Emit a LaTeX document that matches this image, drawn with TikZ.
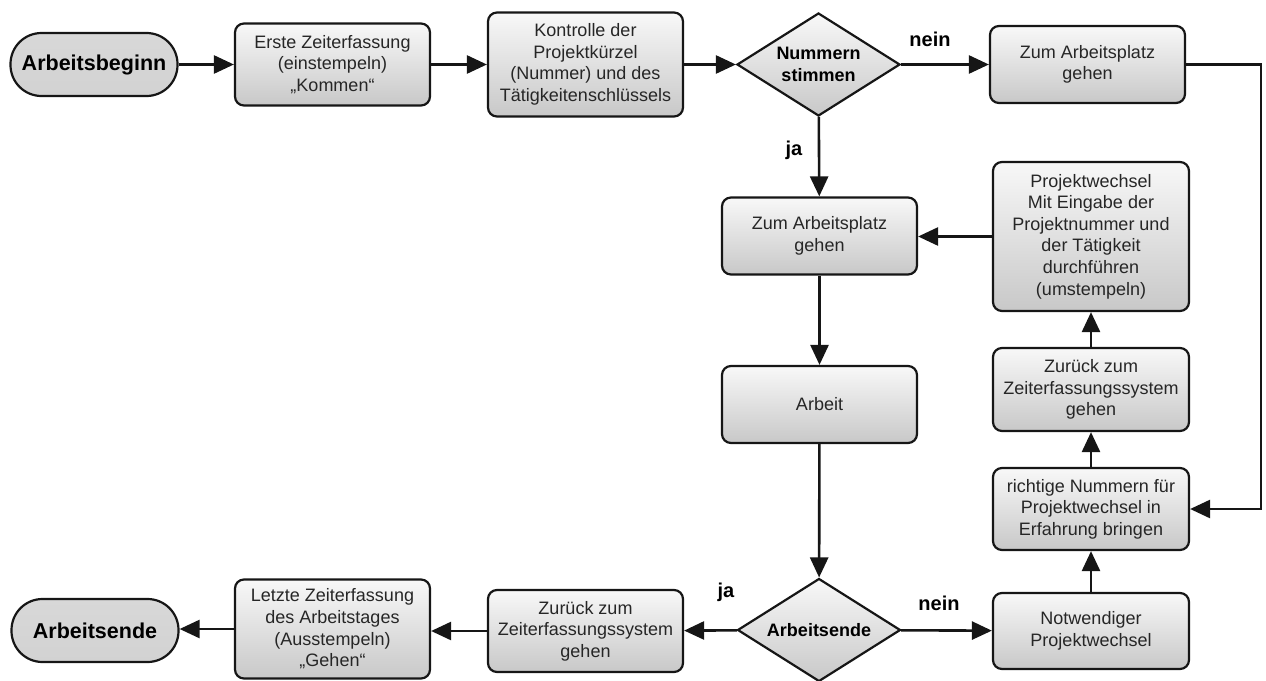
\documentclass[tikz,border=0pt]{standalone}
\usepackage{fontspec}
\setmainfont{Liberation Sans}
\usetikzlibrary{shapes.geometric,arrows.meta}
\definecolor{edge}{HTML}{161616}
\definecolor{ink}{HTML}{262626}
\definecolor{shadetop}{HTML}{F8F8F8}
\definecolor{shadebot}{HTML}{C8C8C8}
\definecolor{termtop}{HTML}{D8D8D8}
\definecolor{termmid}{HTML}{F8F8F8}
\definecolor{termbot}{HTML}{D2D2D2}

\begin{document}
\begin{tikzpicture}[x=1pt,y=-1pt,
  box/.style={draw=edge, line width=2.2pt, rounded corners=9pt,
    top color=shadetop, bottom color=shadebot,
    minimum width=195pt, inner sep=0pt, align=center, text=ink,
    font=\fontsize{18}{21.6}\selectfont},
  term/.style={draw=edge, line width=2.2pt, rounded corners=31pt,
    top color=termtop, middle color=termmid, bottom color=termbot,
    minimum width=167pt, minimum height=63pt, inner sep=0pt,
    font=\fontsize{21.5}{24}\selectfont\bfseries},
  decision/.style={diamond, aspect=1.57, draw=edge, line width=2.2pt,
    top color=shadetop, bottom color=shadebot, inner sep=0pt,
    align=center, minimum width=163pt, minimum height=103pt,
    font=\fontsize{18}{22.5}\selectfont\bfseries},
  flow/.style={draw=edge, line width=2.6pt, -{Triangle[length=20pt,width=18pt]}},
  lbl/.style={font=\fontsize{20}{24}\selectfont\bfseries, anchor=base}
]
\useasboundingbox (0,0) rectangle (1266,680);

% top row
\node[term] (start) at (94,64.5) {Arbeitsbeginn};
\node[box, minimum height=82pt] (erste) at (332.5,64.5)
  {Erste Zeiterfassung\\(einstempeln)\\„Kommen“};
\node[box, minimum height=104pt] (kontrolle) at (585.5,64.5)
  {Kontrolle der\\Projektkürzel\\(Nummer) und des\\Tätigkeitenschlüssels};
\node[decision] (nummern) at (818.5,64.5) {Nummern\\stimmen};
\node[box, minimum height=77pt] (platzA) at (1087.5,64.5)
  {Zum Arbeitsplatz\\gehen};

% middle column
\node[box, minimum height=77pt] (platzB) at (819.5,236)
  {Zum Arbeitsplatz\\gehen};
\node[box, minimum height=77pt] (arbeit) at (819.5,404.5) {Arbeit};
\node[decision] (ende) at (819,630) {Arbeitsende};

% right column
\node[box, minimum width=196pt, minimum height=149pt] (wechsel) at (1091,236.5)
  {Projektwechsel\\Mit Eingabe der\\Projektnummer und\\der Tätigkeit\\durchführen\\(umstempeln)};
\node[box, minimum width=196pt, minimum height=83pt] (zurueckA) at (1091,389.5)
  {Zurück zum\\Zeiterfassungssystem\\gehen};
\node[box, minimum width=196pt, minimum height=82pt] (richtig) at (1091,509)
  {richtige Nummern für\\Projektwechsel in\\Erfahrung bringen};
\node[box, minimum width=196pt, minimum height=76pt] (noetig) at (1091,631)
  {Notwendiger\\Projektwechsel};

% bottom row
\node[box, minimum height=82pt] (zurueckB) at (585.5,631)
  {Zurück zum\\Zeiterfassungssystem\\gehen};
\node[box, minimum height=99pt] (letzte) at (332.5,629)
  {Letzte Zeiterfassung\\des Arbeitstages\\(Ausstempeln)\\„Gehen“};
\node[term] (schluss) at (95,630.5) {Arbeitsende};

\coordinate (rail) at (1261,0);

% connectors
\draw[flow] (start) -- (erste);
\draw[flow] (erste) -- (kontrolle);
\draw[flow] (kontrolle) -- (nummern);
\draw[flow] (nummern) -- (platzA);
\draw[flow] (nummern) -- (platzB);
\draw[flow] (platzA.east) -- (platzA.east -| rail) |- (richtig.east);
\draw[flow] (wechsel.west) -- (platzB.east |- wechsel.west);
\draw[flow] (platzB) -- (arbeit);
\draw[flow] (arbeit) -- (ende);
\draw[flow] (ende) -- (zurueckB);
\draw[flow] (zurueckB) -- (letzte.east |- zurueckB.west);
\draw[flow] (letzte.west) -- (schluss.east |- letzte.west);
\draw[flow] (ende) -- (noetig);
\draw[flow] (noetig) -- (richtig);
\draw[flow] (richtig) -- (zurueckA);
\draw[flow] (zurueckA) -- (wechsel);

% branch labels
\node[lbl] (neinA) at (930,46) {nein};
\node[lbl] (jaA) at (794,155) {ja};
\node[lbl] (jaB) at (726,597) {ja};
\node[lbl] (neinB) at (939,610) {nein};
\end{tikzpicture}
\end{document}
